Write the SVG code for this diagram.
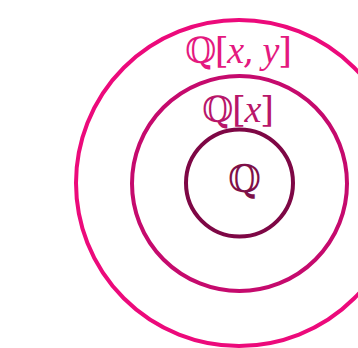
<svg xmlns="http://www.w3.org/2000/svg" width="358" height="348" viewBox="0 0 358 348">
<style>
.ring{fill:none;stroke-width:4}
.lbl{font-family:"DejaVu Serif","Liberation Serif",serif;font-size:36px}
.it{font-family:"Liberation Serif",serif;font-style:italic;font-size:38px}
</style>
<rect width="358" height="348" fill="#ffffff"/>
<g id="outer">
<circle class="ring" cx="239" cy="183" r="163" stroke="#EC0A7B"/>
<text class="lbl" x="185" y="63" fill="#E4197F" textLength="107" lengthAdjust="spacing">ℚ[<tspan class="it">x</tspan>, <tspan class="it">y</tspan>]</text>
</g>
<g id="middle">
<circle class="ring" cx="239.5" cy="183.5" r="107.5" stroke="#C50A6D"/>
<text class="lbl" x="202" y="122" fill="#B8166A" textLength="72" lengthAdjust="spacing">ℚ[<tspan class="it">x</tspan>]</text>
</g>
<g id="inner">
<circle class="ring" cx="239.5" cy="183" r="53.5" stroke="#7E0745"/>
<text class="lbl" x="228" y="192" fill="#7E1048" style="font-size:38px">ℚ</text>
</g>
<g id="connectors"/>
</svg>
